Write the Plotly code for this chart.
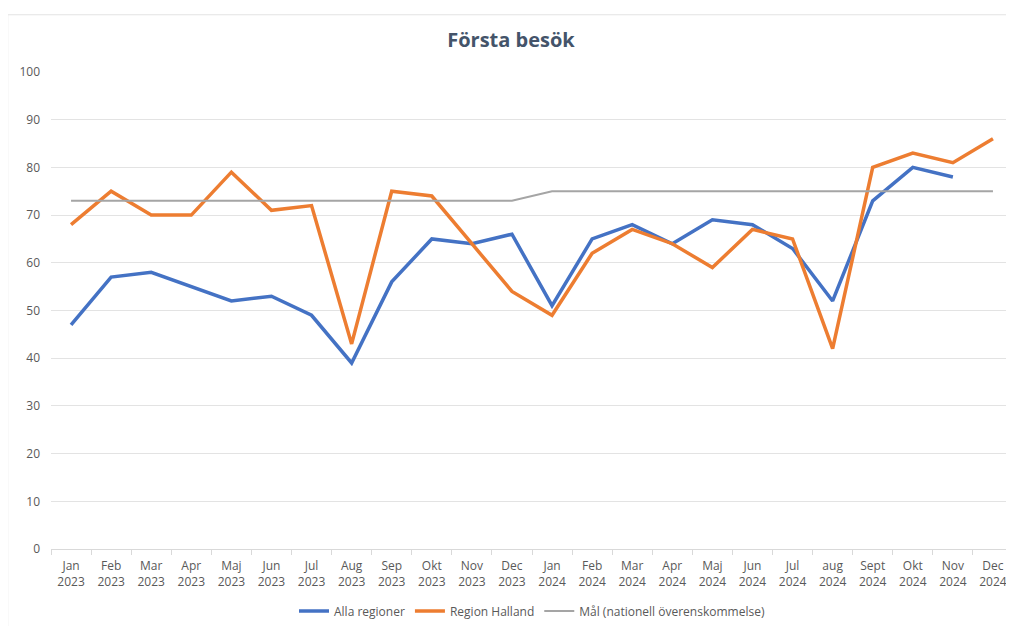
import plotly.graph_objects as go

months = ["Jan", "Feb", "Mar", "Apr", "Maj", "Jun", "Jul", "Aug", "Sep", "Okt", "Nov", "Dec",
          "Jan", "Feb", "Mar", "Apr", "Maj", "Jun", "Jul", "aug", "Sept", "Okt", "Nov", "Dec"]
years = ["2023"] * 12 + ["2024"] * 12
categories = [f"{m}<br>{y}" for m, y in zip(months, years)]

alla_regioner = [47, 57, 58, 55, 52, 53, 49, 39, 56, 65, 64, 66,
                 51, 65, 68, 64, 69, 68, 63, 52, 73, 80, 78, None]
region_halland = [68, 75, 70, 70, 79, 71, 72, 43, 75, 74, 64, 54,
                  49, 62, 67, 64, 59, 67, 65, 42, 80, 83, 81, 86]
mal = [73] * 12 + [75] * 12

fig = go.Figure()

fig.add_trace(go.Scatter(x=categories, y=alla_regioner, mode="lines", name="Alla regioner",
                         line=dict(color="#4472C4", width=3.5)))
fig.add_trace(go.Scatter(x=categories, y=region_halland, mode="lines", name="Region Halland",
                         line=dict(color="#ED7D31", width=3.5)))
fig.add_trace(go.Scatter(x=categories, y=mal, mode="lines", name="Mål (nationell överenskommelse)",
                         line=dict(color="#A5A5A5", width=2)))

# light frame round the chart area, as in the original Excel export
fig.add_shape(type="rect", xref="paper", yref="paper",
              x0=-0.045, x1=1.05, y0=-0.3, y1=1.12,
              line=dict(color="#E3E3E3", width=1), fillcolor="rgba(0,0,0,0)", layer="below")

# page body has an 8px margin, so the figure is sized to fit inside the window
fig.update_layout(
    title=dict(text="<b>Första besök</b>", x=0.5, xanchor="center", y=0.948, yanchor="middle",
               font=dict(size=20, color="#44546A", family="Open Sans")),
    width=1006, height=618,
    margin=dict(l=43, r=1, t=64, b=74),
    paper_bgcolor="white", plot_bgcolor="white",
    font=dict(family="Open Sans", size=12, color="#595959"),
    showlegend=True,
    legend=dict(orientation="h", x=0.5, xanchor="center", y=-0.13, yanchor="middle",
                font=dict(size=12, color="#595959"), traceorder="normal"),
)

fig.update_xaxes(range=[-0.5, 23.5], showgrid=False, showline=True, linecolor="#D9D9D9", linewidth=1,
                 ticks="outside", tickson="boundaries", ticklen=5, tickcolor="#D9D9D9",
                 ticklabelstandoff=6, tickfont=dict(size=12, color="#595959"), tickangle=0)
fig.update_yaxes(range=[0, 100], dtick=10, showgrid=True, gridcolor="#E3E3E3", gridwidth=1,
                 zeroline=False, showline=False, ticks="", ticklabelstandoff=10,
                 tickfont=dict(size=12, color="#595959"))

fig.write_html("out.html")
